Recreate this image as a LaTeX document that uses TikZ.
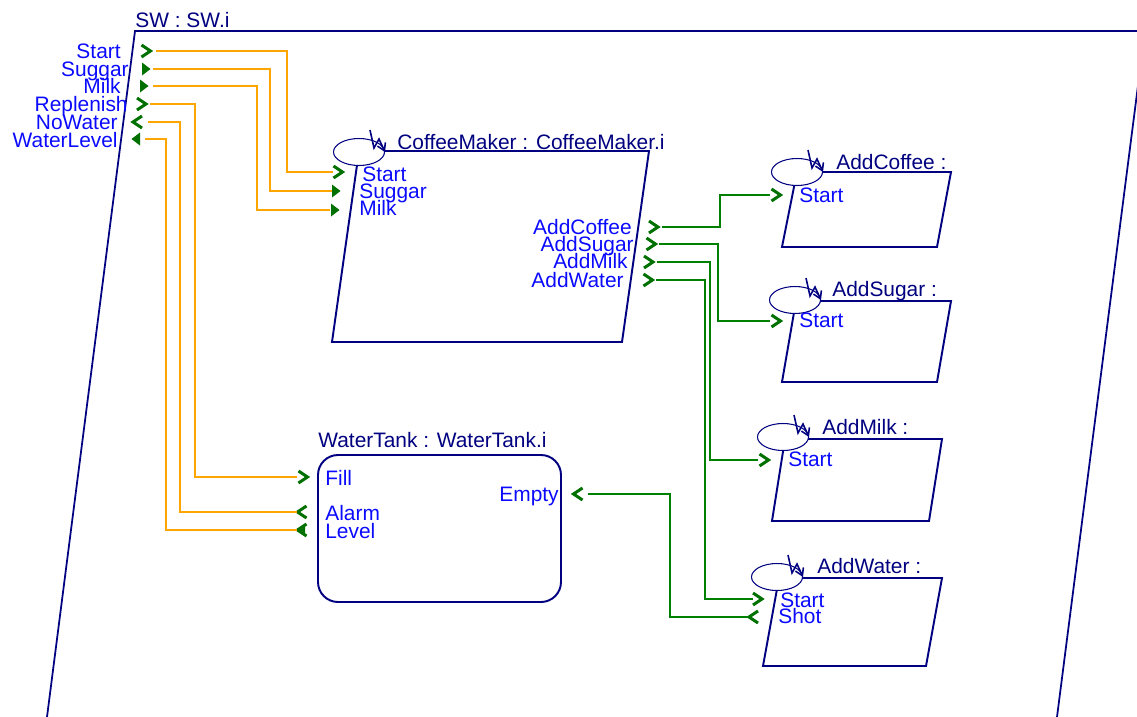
\documentclass[tikz,border=0pt]{standalone}
\usepackage{fontspec}
\setmainfont{Liberation Sans}
\usetikzlibrary{arrows.meta}

\definecolor{navy}{RGB}{0,0,128}
\definecolor{portblue}{RGB}{10,10,255}
\definecolor{wireorange}{RGB}{255,165,0}
\definecolor{wiregreen}{RGB}{0,128,0}
\definecolor{markgreen}{RGB}{0,112,0}

\tikzset{
  blockline/.style={draw=navy, line width=1.1pt},
  title/.style={text=navy, anchor=base west, inner sep=0pt},
  plabel/.style={text=portblue, inner sep=0pt},
  owire/.style={draw=wireorange, line width=1.1pt},
  gwire/.style={draw=wiregreen, line width=1.1pt},
  pin/.pic={\draw[markgreen, line width=1.7pt] (-4.5,-6) -- (4.5,0) -- (-4.5,6);},
  pout/.pic={\draw[markgreen, line width=1.7pt] (4.5,-6) -- (-4.5,0) -- (4.5,6);},
  din/.pic={\fill[markgreen] (-4,-6.5) -- (4.5,0) -- (-4,6.5) -- cycle;},
  dout/.pic={\fill[markgreen] (4,-6.5) -- (-4.5,0) -- (4,6.5) -- cycle;},
  dlev/.pic={\draw[markgreen, line width=1.7pt] (4.5,-6) -- (-4.5,0) -- (4.5,6);
             \fill[markgreen] (-2,0) -- (3,-3.5) -- (3,3.5) -- cycle;},
  ctrl/.pic={\filldraw[fill=white, draw=navy, line width=0.6pt] (0,0) ellipse [x radius=25.5, y radius=13.5];
             \draw[navy, line width=0.9pt, -{Straight Barb[length=4pt,width=5pt]}]
               (11,-22) -- (15,-4) -- (20,-13) -- (26,0);}
}

\begin{document}
\begin{tikzpicture}[x=0.02cm, y=-0.02cm, every node/.style={font=\fontsize{11.9}{12}\selectfont}]
  \useasboundingbox (0,0) rectangle (1137,717);

  % outer system
  \draw[navy, line width=1pt] (47,717) -- (135,31) -- (1145,31) -- (1057,717);
  \node[title] (swTitle) at (135,27) {SW : SW.i};

  % blocks
  \draw[blockline] (359,151) -- (649,151) -- (622,342) -- (332,342) -- cycle;
  \pic at (359,152) {ctrl};
  \node[title] (cmTitle) at (397,149) {CoffeeMaker : CoffeeMaker.i};

  \draw[blockline, rounded corners=0.4cm] (318,455) rectangle (561,602);
  \node[title] (wtTitle) at (318,447) {WaterTank : WaterTank.i};

  \draw[blockline] (797,172) -- (951,172) -- (937,247) -- (782,247) -- cycle;
  \pic at (797,172) {ctrl};
  \node[title] (acTitle) at (836,169) {AddCoffee :};

  \draw[blockline] (796,301) -- (951,301) -- (937,382) -- (782,382) -- cycle;
  \pic at (795,300) {ctrl};
  \node[title] (asTitle) at (832,296) {AddSugar :};

  \draw[blockline] (785,439) -- (942,439) -- (929,521) -- (772,521) -- cycle;
  \pic at (783,437) {ctrl};
  \node[title] (amTitle) at (822,434) {AddMilk :};

  \draw[blockline] (779,578) -- (942,578) -- (926,666) -- (763,666) -- cycle;
  \pic at (777,577) {ctrl};
  \node[title] (awTitle) at (817,573) {AddWater :};

  % ports
  \coordinate (swStart) at (146,51);
  \coordinate (swSuggar) at (146,69);
  \coordinate (swMilk) at (144,86);
  \coordinate (swReplenish) at (141.5,104);
  \coordinate (swNoWater) at (137.5,122);
  \coordinate (swWaterLevel) at (136,139);
  \coordinate (cmStart) at (338,172);
  \coordinate (cmSuggar) at (336,191);
  \coordinate (cmMilk) at (335,210);
  \coordinate (cmAddCoffee) at (653.5,227);
  \coordinate (cmAddSugar) at (651,244);
  \coordinate (cmAddMilk) at (648.5,262);
  \coordinate (cmAddWater) at (648,280);
  \coordinate (wtFill) at (303,477);
  \coordinate (wtAlarm) at (302,512);
  \coordinate (wtLevel) at (302,530);
  \coordinate (wtEmpty) at (578,494);
  \coordinate (acStart) at (776,195);
  \coordinate (asStart) at (776,321);
  \coordinate (amStart) at (764,460);
  \coordinate (awStart) at (757.5,599);
  \coordinate (awShot) at (753.5,617);

  \pic at (swStart) {pin};
  \pic at (swSuggar) {din};
  \pic at (swMilk) {din};
  \pic at (swReplenish) {pin};
  \pic at (swNoWater) {pout};
  \pic at (swWaterLevel) {dout};
  \pic at (cmStart) {pin};
  \pic at (cmSuggar) {din};
  \pic at (cmMilk) {din};
  \pic at (cmAddCoffee) {pin};
  \pic at (cmAddSugar) {pin};
  \pic at (cmAddMilk) {pin};
  \pic at (cmAddWater) {pin};
  \pic at (wtFill) {pin};
  \pic at (wtAlarm) {pout};
  \pic at (wtLevel) {dlev};
  \pic at (wtEmpty) {pout};
  \pic at (acStart) {pin};
  \pic at (asStart) {pin};
  \pic at (amStart) {pin};
  \pic at (awStart) {pin};
  \pic at (awShot) {pout};

  % port labels
  \node[plabel, anchor=base east] (lSwStart) at (121,58) {Start};
  \node[plabel, anchor=base east] (lSwSuggar) at (129,76) {Suggar};
  \node[plabel, anchor=base east] (lSwMilk) at (121,93) {Milk};
  \node[plabel, anchor=base east] (lSwReplenish) at (128,111) {Replenish};
  \node[plabel, anchor=base east] (lSwNoWater) at (118,129) {NoWater};
  \node[plabel, anchor=base east] (lSwWaterLevel) at (118,147) {WaterLevel};

  \node[plabel, anchor=base west] (lCmStart) at (362,181) {Start};
  \node[plabel, anchor=base west] (lCmSuggar) at (359,198) {Suggar};
  \node[plabel, anchor=base west] (lCmMilk) at (359,215) {Milk};
  \node[plabel, anchor=base east] (lCmAddCoffee) at (632,234) {AddCoffee};
  \node[plabel, anchor=base east] (lCmAddSugar) at (634,251) {AddSugar};
  \node[plabel, anchor=base east] (lCmAddMilk) at (628,268) {AddMilk};
  \node[plabel, anchor=base east] (lCmAddWater) at (624,287) {AddWater};

  \node[plabel, anchor=base west] (lWtFill) at (325,485) {Fill};
  \node[plabel, anchor=base west] (lWtAlarm) at (325,520) {Alarm};
  \node[plabel, anchor=base west] (lWtLevel) at (325,538) {Level};
  \node[plabel, anchor=base east] (lWtEmpty) at (559,501) {Empty};

  \node[plabel, anchor=base west] (lAcStart) at (799,202) {Start};
  \node[plabel, anchor=base west] (lAsStart) at (799,327) {Start};
  \node[plabel, anchor=base west] (lAmStart) at (788,466) {Start};
  \node[plabel, anchor=base west] (lAwStart) at (780,607) {Start};
  \node[plabel, anchor=base west] (lAwShot) at (778,623) {Shot};

  % wires
  \draw[owire, shorten <=5.5pt, shorten >=2.8pt] (swStart) -- (287,51) |- (cmStart);
  \draw[owire, shorten <=4pt, shorten >=2.3pt] (swSuggar) -- (270,69) |- (cmSuggar);
  \draw[owire, shorten <=5pt, shorten >=2.8pt] (swMilk) -- (257,86) |- (cmMilk);
  \draw[owire, shorten <=4.8pt, shorten >=3.4pt] (swReplenish) -- (195,104) |- (wtFill);
  \draw[owire, shorten <=6pt, shorten >=3pt] (swNoWater) -- (180,122) |- (wtAlarm);
  \draw[owire, shorten <=5pt, shorten >=3pt] (swWaterLevel) -- (166,139) |- (wtLevel);

  \draw[gwire, shorten <=4.8pt, shorten >=3.4pt] (cmAddCoffee) -- (720,227) |- (acStart);
  \draw[gwire, shorten <=4.8pt, shorten >=3.4pt] (cmAddSugar) -- (718,244) |- (asStart);
  \draw[gwire, shorten <=4.8pt, shorten >=3.4pt] (cmAddMilk) -- (710,262) |- (amStart);
  \draw[gwire, shorten <=4.8pt, shorten >=2.8pt] (cmAddWater) -- (705,280) |- (awStart);
  \draw[gwire, shorten <=5.7pt, shorten >=2.6pt] (wtEmpty) -- (670,494) |- (awShot);
\end{tikzpicture}
\end{document}
